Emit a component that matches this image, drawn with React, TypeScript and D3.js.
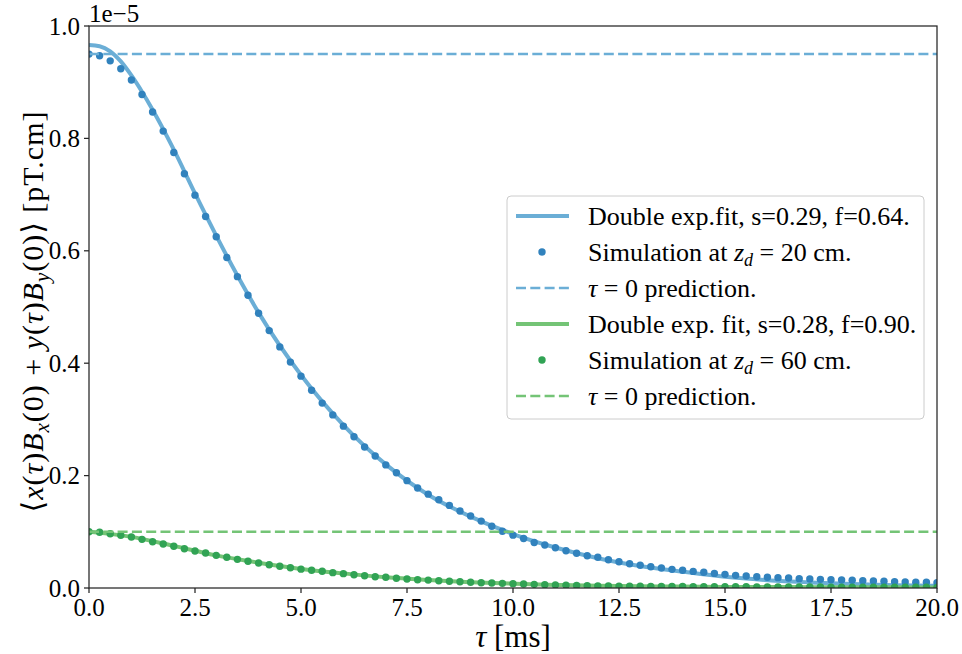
import React from "react";
import * as d3 from "d3";

const simT: number[] = Array.from({ length: 81 }, (_, i) => i * 0.25);

const blueSim: number[] = [
  0.950, 0.947, 0.938, 0.924, 0.904, 0.878, 0.847, 0.813, 0.775,
  0.737, 0.699, 0.661, 0.625, 0.588, 0.554, 0.521, 0.489,
  0.458, 0.429, 0.402, 0.377, 0.352, 0.329, 0.308, 0.288,
  0.269, 0.251, 0.235, 0.219, 0.205, 0.191, 0.178, 0.167,
  0.157, 0.147, 0.137, 0.128, 0.119, 0.110, 0.101, 0.094,
  0.088, 0.081, 0.0765, 0.0717, 0.0663, 0.0617, 0.0574, 0.0546,
  0.0503, 0.0468, 0.0432, 0.0404, 0.0379, 0.0356, 0.0332, 0.0315,
  0.0295, 0.028, 0.026, 0.0243, 0.0225, 0.0213, 0.0201, 0.019,
  0.0184, 0.0178, 0.0166, 0.016, 0.0154, 0.0148, 0.0142, 0.0137,
  0.013, 0.0125, 0.0119, 0.0112, 0.0107, 0.0104, 0.0101, 0.0094,
];

const greenSim: number[] = [
  0.1002, 0.0991, 0.0966, 0.0937, 0.0907, 0.0866, 0.0824, 0.0783, 0.0742,
  0.0699, 0.0658, 0.0623, 0.0581, 0.0546, 0.051, 0.0475, 0.0445,
  0.0415, 0.0386, 0.0361, 0.0335, 0.0316, 0.0298, 0.0273, 0.0255,
  0.0237, 0.0219, 0.0201, 0.019, 0.0174, 0.016, 0.0148, 0.0141,
  0.013, 0.0119, 0.0112, 0.0101, 0.0094, 0.0089, 0.0083, 0.0077,
  0.0071, 0.0065, 0.0059, 0.0053, 0.0049, 0.0046, 0.0042, 0.0038,
  0.0036, 0.0034, 0.0032, 0.003, 0.0029, 0.0028, 0.0027, 0.0026,
  0.0025, 0.0024, 0.0023, 0.0022, 0.0021, 0.0021, 0.002, 0.0019,
  0.0019, 0.0018, 0.0018, 0.0017, 0.0017, 0.0016, 0.0016, 0.0015,
  0.0015, 0.0014, 0.0014, 0.0014, 0.0013, 0.0013, 0.0013, 0.0012,
];

const blueFitT: number[] = [0, 0.25, 0.5, 0.75, 1, 1.25, 1.5, 2, 2.5, 3, 3.5, 4, 5, 6, 7, 8, 9, 10, 11, 12, 13, 14, 15, 16, 17, 18, 19, 20];
const blueFitV: number[] = [0.966, 0.964, 0.955, 0.937, 0.912, 0.883, 0.851, 0.780, 0.702, 0.627, 0.556, 0.490, 0.379, 0.290, 0.220, 0.166, 0.127, 0.096, 0.072, 0.053, 0.039, 0.029, 0.020, 0.014, 0.010, 0.007, 0.005, 0.004];

const greenFitT: number[] = [0, 1, 2, 3, 4, 5, 6, 7, 8, 9, 10, 11, 12, 13, 14, 15, 16, 17, 18, 19, 20];
const greenFitV: number[] = [0.100, 0.091, 0.075, 0.058, 0.045, 0.034, 0.026, 0.019, 0.0142, 0.0103, 0.0077, 0.0055, 0.0038, 0.003, 0.0025, 0.002, 0.0017, 0.0015, 0.0013, 0.0012, 0.001];

const bluePred = 0.95;
const greenPred = 0.10;

const xTicks: number[] = [0, 2.5, 5, 7.5, 10, 12.5, 15, 17.5, 20];
const yTicks: number[] = [0, 0.2, 0.4, 0.6, 0.8, 1.0];

const C = {
  blueLine: "#6baed6",
  blueDot: "#3182bd",
  greenLine: "#74c476",
  greenDot: "#31a354",
};

const FONT = "'Liberation Serif', 'DejaVu Serif', serif";
const DASH = "10 4.3";

export default function App() {
  const W = 962, H = 654;
  const L = 89, R = 937, T = 26, B = 588;
  const x = d3.scaleLinear().domain([0, 20]).range([L, R]);
  const y = d3.scaleLinear().domain([0, 1]).range([B, T]);
  const line = d3.line<[number, number]>().x(d => x(d[0])).y(d => y(d[1])).curve(d3.curveMonotoneX);
  const bluePath = line(blueFitT.map((t, i) => [t, blueFitV[i]]) as [number, number][]) || "";
  const greenPath = line(greenFitT.map((t, i) => [t, greenFitV[i]]) as [number, number][]) || "";

  const legendRows = [
    { kind: "line", color: C.blueLine, text: <tspan>Double exp.fit, s=0.29, f=0.64.</tspan> },
    { kind: "dot", color: C.blueDot, text: <><tspan>Simulation at </tspan><tspan fontStyle="italic">z</tspan><tspan fontStyle="italic" fontSize="18" dy="5">d</tspan><tspan dy="-5"> =  20 cm.</tspan></> },
    { kind: "dash", color: C.blueLine, text: <><tspan fontStyle="italic">τ</tspan><tspan> = 0 prediction.</tspan></> },
    { kind: "line", color: C.greenLine, text: <tspan>Double exp. fit, s=0.28, f=0.90.</tspan> },
    { kind: "dot", color: C.greenDot, text: <><tspan>Simulation at </tspan><tspan fontStyle="italic">z</tspan><tspan fontStyle="italic" fontSize="18" dy="5">d</tspan><tspan dy="-5"> =  60 cm.</tspan></> },
    { kind: "dash", color: C.greenLine, text: <><tspan fontStyle="italic">τ</tspan><tspan> = 0 prediction.</tspan></> },
  ];

  return (
    <svg width={W} height={H} style={{ position: "absolute", left: 0, top: 0, background: "#fff" }} fontFamily={FONT}>
      <defs>
        <clipPath id="plotclip">
          <rect x={L} y={T} width={R - L} height={B - T} />
        </clipPath>
      </defs>
      <rect x={0} y={0} width={W} height={H} fill="#fff" />
      <g clipPath="url(#plotclip)">
        <path d={bluePath} fill="none" stroke={C.blueLine} strokeWidth={4} />
        {simT.map((t, i) => (
          <circle key={"b" + i} cx={x(t)} cy={y(blueSim[i])} r={3.7} fill={C.blueDot} />
        ))}
        <line x1={L} x2={R} y1={y(bluePred)} y2={y(bluePred)} stroke={C.blueLine} strokeWidth={2.5} strokeDasharray={DASH} />
        <path d={greenPath} fill="none" stroke={C.greenLine} strokeWidth={4} />
        {simT.map((t, i) => (
          <circle key={"g" + i} cx={x(t)} cy={y(greenSim[i])} r={3.7} fill={C.greenDot} />
        ))}
        <line x1={L} x2={R} y1={y(greenPred)} y2={y(greenPred)} stroke={C.greenLine} strokeWidth={2.5} strokeDasharray={DASH} />
      </g>
      <rect x={L} y={T} width={R - L} height={B - T} fill="none" stroke="#262626" strokeWidth={1.25} />
      {xTicks.map(t => (
        <g key={"xt" + t}>
          <line x1={x(t)} x2={x(t)} y1={B} y2={B + 5} stroke="#262626" strokeWidth={1.25} />
          <text x={x(t)} y={616} textAnchor="middle" fontSize={25} fill="#000">{t.toFixed(1)}</text>
        </g>
      ))}
      {yTicks.map(t => (
        <g key={"yt" + t}>
          <line x1={L - 5} x2={L} y1={y(t)} y2={y(t)} stroke="#262626" strokeWidth={1.25} />
          <text x={L - 9} y={y(t) + 8.5} textAnchor="end" fontSize={25} fill="#000">{t.toFixed(1)}</text>
        </g>
      ))}
      <text x={L} y={22} fontSize={25} fill="#000">1e−5</text>
      <text x={(L + R) / 2} y={647} textAnchor="middle" fontSize={31} fill="#000">
        <tspan fontStyle="italic">τ</tspan><tspan> [ms]</tspan>
      </text>
      <text transform={`translate(43, 312) rotate(-90)`} textAnchor="middle" fontSize={30} fill="#000" textLength={401} lengthAdjust="spacing">
        <tspan>⟨</tspan><tspan fontStyle="italic">x</tspan><tspan>(</tspan><tspan fontStyle="italic">τ</tspan><tspan>)</tspan><tspan fontStyle="italic">B</tspan><tspan fontStyle="italic" fontSize="21" dy="6">x</tspan><tspan dy="-6">(0) + </tspan><tspan fontStyle="italic">y</tspan><tspan>(</tspan><tspan fontStyle="italic">τ</tspan><tspan>)</tspan><tspan fontStyle="italic">B</tspan><tspan fontStyle="italic" fontSize="21" dy="6">y</tspan><tspan dy="-6">(0)⟩ [pT.cm]</tspan>
      </text>
      <rect x={507} y={196} width={417} height={223} rx={4} fill="#fff" fillOpacity={0.8} stroke="#cccccc" strokeWidth={1} />
      {legendRows.map((r, i) => {
        const cy = 216 + i * 36;
        return (
          <g key={"lg" + i}>
            {r.kind === "line" && <line x1={516} x2={569} y1={cy} y2={cy} stroke={r.color} strokeWidth={4} />}
            {r.kind === "dash" && <line x1={516} x2={569} y1={cy} y2={cy} stroke={r.color} strokeWidth={2.5} strokeDasharray={DASH} />}
            {r.kind === "dot" && <circle cx={542} cy={cy} r={3.7} fill={r.color} />}
            <text x={588} y={cy + 8.5} fontSize={26} fill="#000">{r.text}</text>
          </g>
        );
      })}
    </svg>
  );
}
